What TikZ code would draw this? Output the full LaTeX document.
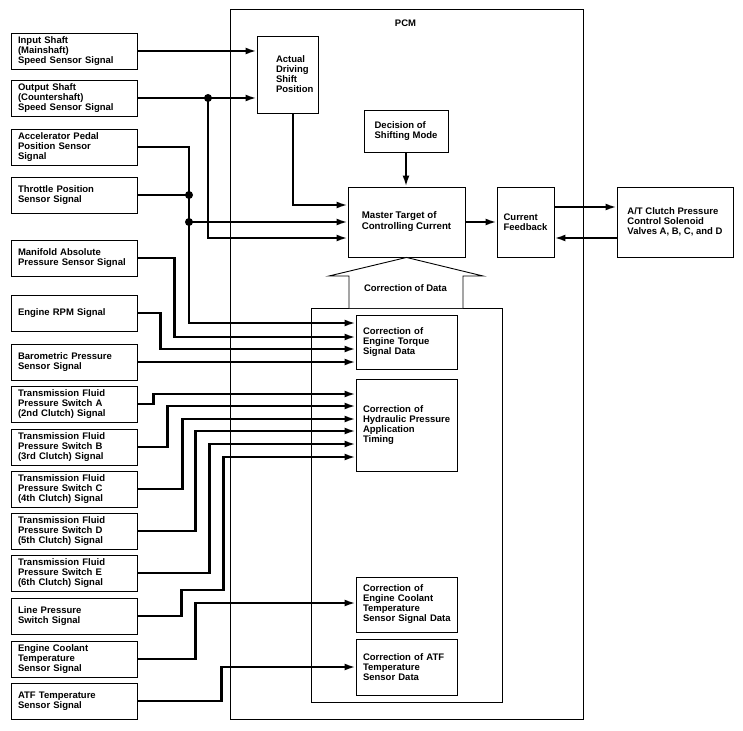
\documentclass[tikz,border=0pt]{standalone}
\usepackage{fontspec}
\setmainfont{Liberation Sans}
\usetikzlibrary{arrows.meta}
\newcommand\dfont{\fontsize{9.5}{10}\selectfont\bfseries\hyphenpenalty=10000\exhyphenpenalty=10000}
\tikzset{
  sig/.style={draw, line width=0.9pt, text width=112pt, inner xsep=7pt, inner ysep=0pt, align=left, font=\dfont, minimum height=36pt},
  blk/.style={draw, line width=0.9pt, align=left, font=\dfont, inner sep=0pt},
  lbl/.style={font=\dfont, inner sep=0pt},
  wire/.style={line width=2.1pt, -{Latex[length=11pt,width=7pt]}},
  plain/.style={line width=2.1pt},
  dot/.style={circle, fill, inner sep=0pt, minimum size=8pt},
  frame/.style={draw, line width=0.8pt, inner sep=0pt}
}
\begin{document}
\begin{tikzpicture}[x=1pt,y=-1pt]
\useasboundingbox (0,0) rectangle (743,730);
\fill[white] (0,0) rectangle (743,730);

% PCM frame and inner group
\node[frame, minimum width=353pt, minimum height=710pt] (pcm) at (406.5,364) {};
\node[lbl] (pcmlbl) at (405.5,23) {PCM};
\node[frame, minimum width=191pt, minimum height=394pt] (grp) at (406.5,505) {};

% left signal boxes
\node[sig] (s1) at (74,51) {Input Shaft\\(Mainshaft)\\Speed Sensor Signal};
\node[sig] (s2) at (74,98) {Output Shaft\\(Countershaft)\\Speed Sensor Signal};
\node[sig] (s3) at (74,147) {Accelerator Pedal\\Position Sensor\\Signal};
\node[sig] (s4) at (74,195) {Throttle Position\\Sensor Signal};
\node[sig] (s5) at (74,258) {Manifold Absolute\\Pressure Sensor Signal};
\node[sig] (s6) at (74,313) {Engine RPM Signal};
\node[sig] (s7) at (74,362) {Barometric Pressure\\Sensor Signal};
\node[sig] (s8) at (74,404) {Transmission Fluid\\Pressure Switch A\\(2nd Clutch) Signal};
\node[sig] (s9) at (74,447) {Transmission Fluid\\Pressure Switch B\\(3rd Clutch) Signal};
\node[sig] (s10) at (74,489) {Transmission Fluid\\Pressure Switch C\\(4th Clutch) Signal};
\node[sig] (s11) at (74,531) {Transmission Fluid\\Pressure Switch D\\(5th Clutch) Signal};
\node[sig] (s12) at (74,573) {Transmission Fluid\\Pressure Switch E\\(6th Clutch) Signal};
\node[sig] (s13) at (74,616) {Line Pressure\\Switch Signal};
\node[sig] (s14) at (74,659) {Engine Coolant\\Temperature\\Sensor Signal};
\node[sig] (s15) at (74,701) {ATF Temperature\\Sensor Signal};

% PCM blocks
\node[blk, text width=23pt, inner xsep=19pt, minimum height=77pt] (ads) at (287.5,74.5) {Actual\\Driving\\Shift\\Position};
\node[blk, minimum width=84pt, minimum height=42pt] (dec) at (406,131) {Decision of\\Shifting Mode};
\node[blk, minimum width=117pt, minimum height=70pt, font=\fontsize{9.7}{11}\selectfont\bfseries] (mt) at (406.5,222) {Master Target of\\Controlling Current};
\node[blk, minimum width=57pt, minimum height=70pt] (cf) at (525.5,222) {Current\\Feedback};
\node[blk, minimum width=116pt, minimum height=70pt] (at) at (675,222) {A/T Clutch Pressure\\Control Solenoid\\Valves A, B, C, and D};

\node[blk, text width=87pt, inner xsep=7pt, minimum height=54pt] (et) at (406.5,342) {Correction~of\\Engine~Torque\\Signal~Data};
\node[blk, text width=87pt, inner xsep=7pt, minimum height=92pt] (hy) at (406.5,425) {Correction~of\\Hydraulic~Pressure\\Application\\Timing};
\node[blk, text width=87pt, inner xsep=7pt, minimum height=55pt] (ec) at (406.5,604.5) {Correction~of\\Engine~Coolant\\Temperature\\Sensor~Signal~Data};
\node[blk, text width=87pt, inner xsep=7pt, minimum height=56pt] (atf) at (406.5,667) {Correction~of~ATF\\Temperature\\Sensor~Data};

% Correction of Data hollow arrow
\draw[line width=0.9pt, fill=white] (349,308) -- (349,276) -- (329,276) -- (mt.south) -- (483,276) -- (463,276) -- (463,308);
\node[lbl] (cod) at (405.5,288) {Correction of Data};

% input points
\coordinate (mt1) at (mt.west |- 0,205);
\coordinate (mt2) at (mt.west |- 0,222);
\coordinate (mt3) at (mt.west |- 0,238);
\coordinate (et1) at (et.west |- 0,323);
\coordinate (et2) at (et.west |- 0,337);
\coordinate (et3) at (et.west |- 0,349);
\coordinate (hy1) at (hy.west |- 0,394);
\coordinate (hy2) at (hy.west |- 0,406);
\coordinate (hy3) at (hy.west |- 0,419);
\coordinate (hy4) at (hy.west |- 0,431);
\coordinate (hy5) at (hy.west |- 0,444);
\coordinate (hy6) at (hy.west |- 0,457);
\coordinate (ec1) at (ec.west |- 0,603);
\coordinate (atf1) at (atf.west);

% junctions
\node[dot] (j0) at (208,98) {};
\node[dot] (j1) at (189,195) {};
\node[dot] (j2) at (189,222) {};

% wires
\draw[wire] (s1.east) -- (s1.east -| ads.west);
\draw[wire] (s2.east) -- (s2.east -| ads.west);
\draw[wire] (j0.center) |- (mt3);
\draw[wire] (s3.east) -| (j1.center) -- (j2.center) |- (et1);
\draw[plain] (s4.east) -- (j1.center);
\draw[wire] (j2.center) -- (mt2);
\draw[wire] ([xshift=5.5pt]ads.south) |- (mt1);
\draw[wire] (dec.south) -- (dec.south |- mt.north);
\draw[wire] (mt.east) -- (cf.west);
\draw[wire] (cf.east |- 0,207) -- (at.west |- 0,207);
\draw[wire] (at.west |- 0,238) -- (cf.east |- 0,238);

\draw[wire] (s5.east) -- ++(37,0) |- (et2);
\draw[wire] (s6.east) -- ++(23,0) |- (et3);
\draw[wire] (s7.east) -- (s7.east -| et.west);
\draw[wire] (s8.east) -- ++(16,0) |- (hy1);
\draw[wire] (s9.east) -- ++(30,0) |- (hy2);
\draw[wire] (s10.east) -- ++(45,0) |- (hy3);
\draw[wire] (s11.east) -- ++(58,0) |- (hy4);
\draw[wire] (s12.east) -- ++(72,0) |- (hy5);
\draw[wire] (s13.east) -- ++(44,0) -- ++(0,-26) -- ++(42,0) |- (hy6);
\draw[wire] (s14.east) -- ++(58,0) |- (ec1);
\draw[wire] (s15.east) -- ++(84,0) |- (atf1);
\end{tikzpicture}
\end{document}
